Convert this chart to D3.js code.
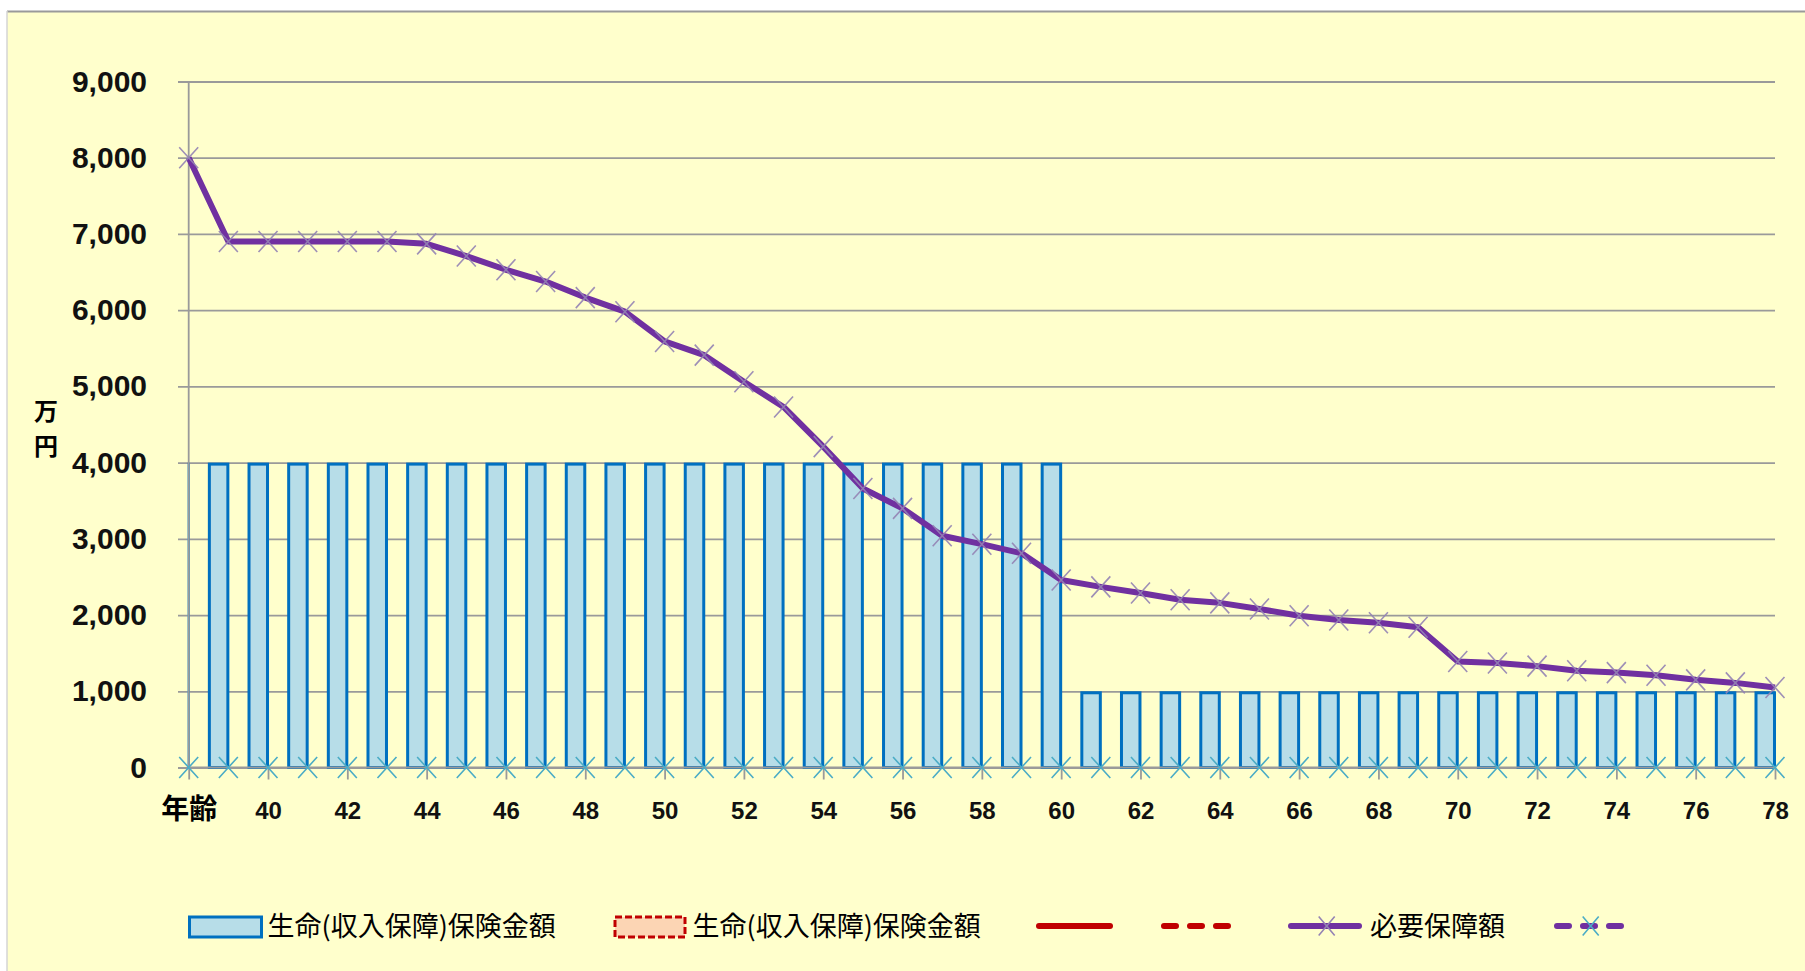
<!DOCTYPE html>
<html><head><meta charset="utf-8">
<script src="https://cdn.jsdelivr.net/npm/d3@7"></script>
<style>html,body{margin:0;padding:0;background:#fff;overflow:hidden}</style>
</head><body><svg id="c" width="1805" height="971"></svg>
<script>
// ---- data ----
const ages = [38,39,40,41,42,43,44,45,46,47,48,49,50,51,52,53,54,55,56,57,58,59,60,61,62,63,64,65,66,67,68,69,70,71,72,73,74,75,76,77,78];
const coverage = [4000,4000,4000,4000,4000,4000,4000,4000,4000,4000,4000,4000,4000,4000,4000,4000,4000,4000,4000,4000,4000,4000,4000,
                  1000,1000,1000,1000,1000,1000,1000,1000,1000,1000,1000,1000,1000,1000,1000,1000,1000,1000];
const required = [8000,6900,6900,6900,6900,6900,6870,6710,6530,6375,6165,5980,5590,5410,5060,4730,4210,3660,3400,3040,2930,2810,2460,
                  2370,2290,2200,2160,2080,1990,1935,1900,1840,1390,1370,1330,1270,1245,1210,1150,1110,1050];
const zeroSeries = ages.map(() => 0);
const yTicks = [0,1000,2000,3000,4000,5000,6000,7000,8000,9000];
const xTickAges = [38,40,42,44,46,48,50,52,54,56,58,60,62,64,66,68,70,72,74,76,78];
const xTickLabels = ["年齢","40","42","44","46","48","50","52","54","56","58","60","62","64","66","68","70","72","74","76","78"];
const yTitle = ["万","円"];
const legendNames = ["生命(収入保障)保険金額","生命(収入保障)保険金額","","","必要保障額",""];

// ---- layout ----
const X0 = 188.7, X1 = 1775, Y0 = 767.5, Y1 = 81.5;
const svg = d3.select("#c");
const x = d3.scalePoint().domain(ages).range([X0, X1]);
const y = d3.scaleLinear().domain([0, 9000]).range([Y0, Y1]);
const numFont = "'Liberation Sans', Arial, sans-serif";
const cjkFont = "'Noto Sans CJK JP', 'Noto Sans', sans-serif";

// chart area background
svg.append("rect").attr("x", 7).attr("y", 11).attr("width", 1800).attr("height", 962).attr("fill", "#FFFFCC");
svg.append("line").attr("x1", 7).attr("x2", 1805).attr("y1", 11.5).attr("y2", 11.5).attr("stroke", "#9a9a9a").attr("stroke-width", 2);
svg.append("line").attr("x1", 7).attr("x2", 7).attr("y1", 11).attr("y2", 971).attr("stroke", "#d4d4d4").attr("stroke-width", 1.5);

// y axis with gridlines
const yAxis = svg.append("g").attr("transform", `translate(178,0)`)
  .call(d3.axisLeft(y).tickValues(yTicks).tickFormat(d3.format(",")).tickSize(-(X1 - 178)).tickPadding(31));
yAxis.select(".domain").remove();
yAxis.selectAll(".tick line").attr("stroke", "#9a9a9a").attr("stroke-width", 1.8);
yAxis.selectAll(".tick text").attr("font-family", numFont).attr("font-weight", "bold")
  .attr("font-size", 30).attr("fill", "#111");

// clip for bars
svg.append("clipPath").attr("id", "pc").append("rect")
  .attr("x", X0 - 1).attr("y", 0).attr("width", X1 - X0 + 4).attr("height", Y0 + 2);

// bars
const bw = 18.5;
svg.append("g").attr("clip-path", "url(#pc)").selectAll("rect").data(ages).join("rect")
  .attr("x", d => x(d) - bw - 0.5).attr("width", bw)
  .attr("y", (d, i) => y(coverage[i]) + 1.5).attr("height", (d, i) => y(0) - y(coverage[i]) - 1.5)
  .attr("fill", "#B7DDE8").attr("stroke", "#0070C0").attr("stroke-width", 3);

// y axis line
svg.append("line").attr("x1", X0).attr("x2", X0).attr("y1", Y1).attr("y2", Y0)
  .attr("stroke", "#9a9a9a").attr("stroke-width", 1.8);

// x axis
const xAxis = svg.append("g").attr("transform", `translate(0,${Y0})`)
  .call(d3.axisBottom(x).tickValues(xTickAges).tickFormat((d, i) => xTickLabels[i]).tickSize(12));
xAxis.select(".domain").attr("stroke", "#9a9a9a").attr("stroke-width", 1.8).attr("d", `M${X0},0H${X1}`);
xAxis.selectAll(".tick line").attr("stroke", "#9a9a9a").attr("stroke-width", 1.8);
xAxis.selectAll(".tick text").attr("y", 51).attr("dy", 0)
  .attr("font-family", numFont).attr("font-weight", "bold").attr("font-size", 24).attr("fill", "#111");
xAxis.selectAll(".tick text").filter((d, i) => i === 0)
  .attr("font-family", cjkFont).attr("font-size", 28).attr("fill", "#000");

// y title
svg.append("g").selectAll("text").data(yTitle).join("text")
  .attr("x", 46).attr("y", (d, i) => 420 + i * 35).attr("text-anchor", "middle")
  .attr("font-family", cjkFont).attr("font-weight", "bold").attr("font-size", 24).attr("fill", "#000")
  .text(d => d);

// X marker path
const xMark = (sx, sy) => `M${-sx},${-sy}L${sx},${sy}M${-sx},${sy}L${sx},${-sy}`;

// zero series markers (teal)
svg.append("g").selectAll("path").data(ages).join("path")
  .attr("transform", (d, i) => `translate(${x(d)},${y(zeroSeries[i])})`)
  .attr("d", xMark(9.5, 10.5)).attr("fill", "none").attr("stroke", "#4BACC6").attr("stroke-width", 1.6);

// required line
const line = d3.line().x((d, i) => x(ages[i])).y(d => y(d));
svg.append("path").datum(required).attr("d", line).attr("fill", "none")
  .attr("stroke", "#7030A0").attr("stroke-width", 6).attr("stroke-linejoin", "round");
svg.append("g").selectAll("path").data(required).join("path")
  .attr("transform", (d, i) => `translate(${x(ages[i])},${y(d)})`)
  .attr("d", xMark(9.5, 10.5)).attr("fill", "none").attr("stroke", "#9483B4").attr("stroke-width", 1.6).attr("opacity", 0.9);

// legend
const LY = 926;
const lg = svg.append("g");
lg.append("rect").attr("x", 189.5).attr("y", 917).attr("width", 72).attr("height", 20)
  .attr("fill", "#B7DDE8").attr("stroke", "#0070C0").attr("stroke-width", 3);
lg.append("rect").attr("x", 615).attr("y", 917).attr("width", 70).attr("height", 20)
  .attr("fill", "#FCD5B4").attr("stroke", "#C00000").attr("stroke-width", 3).attr("stroke-dasharray", "7,3");
lg.append("line").attr("x1", 1039).attr("x2", 1110).attr("y1", LY).attr("y2", LY)
  .attr("stroke", "#C00000").attr("stroke-width", 6).attr("stroke-linecap", "round");
lg.append("line").attr("x1", 1164).attr("x2", 1228).attr("y1", LY).attr("y2", LY)
  .attr("stroke", "#C00000").attr("stroke-width", 6).attr("stroke-linecap", "round").attr("stroke-dasharray", "12,14");
lg.append("line").attr("x1", 1291).attr("x2", 1359).attr("y1", LY).attr("y2", LY)
  .attr("stroke", "#7030A0").attr("stroke-width", 6).attr("stroke-linecap", "round");
lg.append("path").attr("transform", `translate(1326.7,${LY})`).attr("d", xMark(8, 9.5))
  .attr("fill", "none").attr("stroke", "#9483B4").attr("stroke-width", 1.6);
lg.append("line").attr("x1", 1557).attr("x2", 1621).attr("y1", LY).attr("y2", LY)
  .attr("stroke", "#7030A0").attr("stroke-width", 6).attr("stroke-linecap", "round").attr("stroke-dasharray", "12,14");
lg.append("path").attr("transform", `translate(1590.7,${LY})`).attr("d", xMark(8, 9.5))
  .attr("fill", "none").attr("stroke", "#4BACC6").attr("stroke-width", 1.6);
const legendTextX = [267.5, 692.5, null, null, 1370, null];
lg.selectAll("text").data(legendNames.map((n, i) => ({n, x: legendTextX[i]})).filter(d => d.n))
  .join("text").attr("x", d => d.x).attr("y", 936)
  .attr("font-family", cjkFont).attr("font-size", 27).attr("fill", "#000").text(d => d.n);
</script></body></html>
